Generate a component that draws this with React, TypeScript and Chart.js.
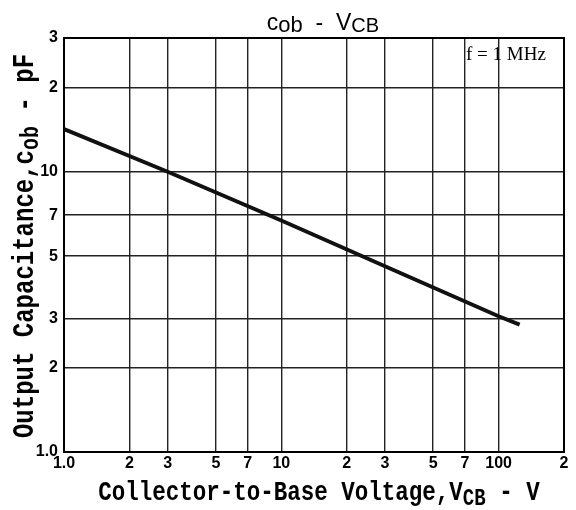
import React, { useEffect, useRef } from "react";
import { Chart, registerables } from "chart.js";

Chart.register(...registerables);

// Data
const voltages = [1, 3, 10, 30, 100, 125];
const capacitances = [14.2, 10.0, 6.7, 4.6, 3.05, 2.85];

const xTickValues = [1, 2, 3, 5, 7, 10, 20, 30, 50, 70, 100, 200];
const xTickLabels = ["1.0", "2", "3", "5", "7", "10", "2", "3", "5", "7", "100", "2"];
const yTickValues = [1, 2, 3, 5, 7, 10, 20, 30];
const yTickLabels = ["1.0", "2", "3", "5", "7", "10", "2", "3"];

type Run = { text: string; font: string; dy: number };

function drawRuns(ctx: CanvasRenderingContext2D, runs: Run[], x: number, y: number) {
  let total = 0;
  for (const r of runs) {
    ctx.font = r.font;
    total += ctx.measureText(r.text).width;
  }
  let cx = x - total / 2;
  for (const r of runs) {
    ctx.font = r.font;
    ctx.fillText(r.text, cx, y + r.dy);
    cx += ctx.measureText(r.text).width;
  }
}

const textPlugin = {
  id: "textPlugin",
  afterDraw(chart: any) {
    const ctx: CanvasRenderingContext2D = chart.ctx;
    const a = chart.chartArea;
    ctx.save();
    ctx.fillStyle = "#000";
    ctx.textAlign = "left";
    ctx.textBaseline = "alphabetic";

    // Title
    const tf = '"Liberation Sans", Arial, sans-serif';
    drawRuns(
      ctx,
      [
        { text: "c", font: `23px ${tf}`, dy: 0 },
        { text: "ob", font: `22px ${tf}`, dy: 2 },
        { text: "  -  ", font: `23px ${tf}`, dy: 0 },
        { text: "V", font: `23px ${tf}`, dy: 0 },
        { text: "CB", font: `20px ${tf}`, dy: 2 },
      ],
      323,
      30
    );

    // Frequency annotation
    ctx.font = '19px "Liberation Serif", serif';
    ctx.fillText("f = 1 MHz", 466, 60);

    const mf = '"Liberation Mono", "Courier New", monospace';
    // X axis title
    ctx.save();
    ctx.translate((a.left + a.right) / 2 + 5, 500);
    ctx.scale(1, 1.25);
    drawRuns(
      ctx,
      [
        { text: "Collector-to-Base Voltage,", font: `bold 22.5px ${mf}`, dy: 0 },
        { text: "V", font: `bold 22.5px ${mf}`, dy: 0 },
        { text: "CB", font: `bold 19px ${mf}`, dy: 4 },
        { text: " - V", font: `bold 22.5px ${mf}`, dy: 0 },
      ],
      0,
      0
    );
    ctx.restore();

    // Y axis title
    ctx.save();
    ctx.translate(33, 246);
    ctx.rotate(-Math.PI / 2);
    ctx.scale(1, 1.25);
    drawRuns(
      ctx,
      [
        { text: "Output Capacitance,", font: `bold 24px ${mf}`, dy: 0 },
        { text: "c", font: `bold 24px ${mf}`, dy: 0 },
        { text: "ob", font: `bold 20px ${mf}`, dy: 4 },
        { text: " - pF", font: `bold 24px ${mf}`, dy: 0 },
      ],
      0,
      0
    );
    ctx.restore();

    // Frame
    ctx.strokeStyle = "#000";
    ctx.lineWidth = 2;
    ctx.strokeRect(a.left, a.top, a.right - a.left, a.bottom - a.top);
    ctx.restore();
  },
};

export default function App() {
  const canvasRef = useRef<HTMLCanvasElement | null>(null);

  useEffect(() => {
    const canvas = canvasRef.current;
    if (!canvas) return;
    const tickFont = { family: '"Liberation Sans", Arial, sans-serif', size: 16, weight: "bold" as const };
    const chart = new Chart(canvas, {
      type: "line",
      data: {
        datasets: [
          {
            data: voltages.map((v, i) => ({ x: v, y: capacitances[i] })),
            borderColor: "#111",
            borderWidth: 4,
            pointRadius: 0,
            tension: 0,
            fill: false,
            borderCapStyle: "butt",
          },
        ],
      },
      options: {
        responsive: false,
        animation: false,
        events: [],
        layout: { padding: { top: 38, right: 12, left: 0, bottom: 0 } },
        plugins: {
          legend: { display: false },
          title: { display: false },
          tooltip: { enabled: false },
        },
        scales: {
          x: {
            type: "logarithmic",
            min: 1,
            max: 200,
            afterBuildTicks: (scale: any) => {
              scale.ticks = xTickValues.map((v) => ({ value: v }));
            },
            afterFit: (scale: any) => {
              scale.height = 58;
            },
            ticks: {
              autoSkip: false,
              maxRotation: 0,
              padding: 2,
              color: "#000",
              font: tickFont,
              callback: (_v: any, i: number) => xTickLabels[i],
            },
            grid: { color: "#222", lineWidth: 1.4, drawTicks: false },
            border: { display: true, color: "#000", width: 2 },
          },
          y: {
            type: "logarithmic",
            min: 1,
            max: 30,
            afterBuildTicks: (scale: any) => {
              scale.ticks = yTickValues.map((v) => ({ value: v }));
            },
            afterFit: (scale: any) => {
              scale.width = 64;
            },
            ticks: {
              autoSkip: false,
              padding: 6,
              color: "#000",
              font: tickFont,
              callback: (_v: any, i: number) => yTickLabels[i],
            },
            grid: { color: "#222", lineWidth: 1.4, drawTicks: false },
            border: { display: true, color: "#000", width: 2 },
          },
        },
      },
      plugins: [textPlugin],
    } as any);
    return () => chart.destroy();
  }, []);

  return (
    <div style={{ position: "fixed", left: 0, top: 0, width: 576, height: 510, background: "#fff" }}>
      <canvas ref={canvasRef} width={576} height={510} style={{ display: "block" }} />
    </div>
  );
}
